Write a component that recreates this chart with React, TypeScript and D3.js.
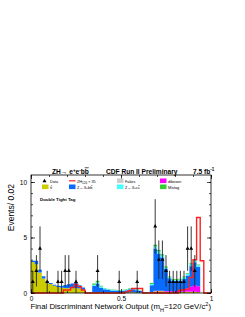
import React, { useEffect, useRef } from 'react'
import * as d3 from 'd3'

// bin edges are 0.00, 0.02, ... 0.98 (50 bins of width 0.02)
const binLow = d3.range(50).map(i => i / 50)

const ttbar = [2.8, 2.6, 1.85, 1.3, 0.95, 0.8, 0.65, 0.55, 0.5, 0.45, 0.42, 0.42, 0.45, 0.4, 0.3, 0.03, 0.03, 0.1, 0.1, 0.08,
  0.06, 0.05, 0.05, 0.05, 0.05, 0.05, 0.05, 0.06, 0.06, 0.05, 0.04, 0.02, 0.02, 0.08, 0.15, 0.15, 0.15, 0.12, 0.12, 0.1,
  0.1, 0.1, 0.12, 0.12, 0.12, 0.12, 0.1, 0, 0, 0]
const diboson = [0, 0, 0, 0, 0, 0, 0, 0, 0, 0, 0, 0, 0, 0, 0, 0, 0, 0, 0, 0,
  0, 0, 0, 0, 0, 0, 0, 0, 0, 0, 0, 0, 0, 0.02, 0.05, 0.05, 0.05, 0.05, 0.05, 0.05,
  0.08, 0.1, 0.15, 0.3, 0.45, 0.6, 0.5, 0, 0, 0]
const zbb = [0.1, 0.3, 0.25, 0.2, 0.1, 0.1, 0.1, 0.1, 0.12, 0.27, 0.36, 0.43, 0.45, 0.3, 0.2, 0.02, 0.02, 0.55, 0.75, 0.4,
  0.28, 0.22, 0.18, 0.17, 0.15, 0.16, 0.2, 0.28, 0.28, 0.2, 0.13, 0.05, 0.02, 0.6, 3.8, 3.35, 3.0, 2.0, 1.15, 0.95,
  0.92, 0.9, 1.0, 1.15, 1.85, 2.05, 1.75, 0, 0, 0]
const zcc = [0, 0, 0, 0, 0, 0, 0, 0, 0, 0, 0, 0, 0, 0, 0, 0, 0, 0.1, 0.12, 0.1,
  0.08, 0.07, 0.06, 0.05, 0.05, 0.05, 0.06, 0.07, 0.07, 0.06, 0.05, 0.02, 0, 0.12, 0.2, 0.2, 0.18, 0.13, 0.1, 0.1,
  0.1, 0.12, 0.15, 0.15, 0.2, 0.2, 0.15, 0, 0, 0]
const mistag = [0, 0, 0, 0, 0, 0, 0, 0, 0, 0, 0, 0, 0, 0, 0, 0, 0, 0.1, 0.13, 0.07,
  0.03, 0.03, 0.03, 0.03, 0.03, 0.03, 0.03, 0.03, 0.03, 0.03, 0.03, 0.01, 0, 0.08, 0.15, 0.12, 0.1, 0.08, 0.06, 0.06,
  0.06, 0.06, 0.06, 0.06, 0.06, 0.06, 0.06, 0, 0, 0]
const fakes = [0, 0, 0, 0, 0, 0, 0, 0, 0, 0, 0, 0, 0, 0, 0, 0, 0, 0, 0, 0,
  0, 0, 0, 0, 0, 0, 0, 0, 0, 0, 0, 0, 0, 0.03, 0.03, 0.03, 0.03, 0.03, 0.03, 0.03,
  0.03, 0.03, 0.03, 0.03, 0.03, 0.03, 0.03, 0, 0, 0]
// ZH (m_H = 120) signal scaled x35
const signal = [0, 0, 0, 0, 0, 0, 0, 0, 0, 0.27, 0.27, 0.5, 0.78, 0.57, 0.27, 0, 0, 0, 0, 0,
  0, 0, 0, 0, 0, 0, 0.1, 0.2, 0.4, 0.4, 0.4, 0, 0, 0, 0, 0, 0, 0, 0, 0,
  0, 0.25, 0.3, 0.35, 1.4, 3.0, 6.8, 2.9, 0, 0]
const dataCounts = [1, 2, 4, 0, 1, 0, 0, 1, 1, 2, 2, 0, 1, 0, 0, 0, 0, 0, 2, 0,
  0, 0, 0, 0, 1, 0, 0, 0, 0, 1, 0, 0, 0, 0, 6, 3, 3, 2, 1, 1,
  1, 1, 1, 4, 4, 2, 0, 0, 0, 0]

const keys = ['ttbar', 'diboson', 'zbb', 'zcc', 'mistag', 'fakes']
const colors: Record<string, string> = {
  ttbar: '#cccc00', diboson: '#ff00ff', zbb: '#0a6cff', zcc: '#44ffff', mistag: '#33cc33', fakes: '#cccccc'
}

const yTicksMajor = [0, 5, 10]
const xTicksMajor = [0, 0.5, 1]

const FONT = "'Liberation Sans', Arial, Helvetica, sans-serif"

export default function App() {
  const svgRef = useRef<SVGSVGElement | null>(null)

  useEffect(() => {
    if (!svgRef.current) return
    const svg = d3.select(svgRef.current)
    svg.selectAll('*').remove()

    const left = 31, right = 211, top = 175, bottom = 293
    const x = d3.scaleLinear().domain([0, 1]).range([left, right])
    const y = d3.scaleLinear().domain([0, 10]).range([bottom, 182])

    // rows for the stack, plus a closing row at x = 1 for the step curve
    const rows = binLow.map((lo, i) => ({
      lo, ttbar: ttbar[i], diboson: diboson[i], zbb: zbb[i], zcc: zcc[i], mistag: mistag[i], fakes: fakes[i]
    }))
    rows.push({ ...rows[rows.length - 1], lo: 1 })

    const series = d3.stack<any>().keys(keys)(rows)
    const area = d3.area<any>()
      .curve(d3.curveStepAfter)
      .x(d => x(d.data.lo))
      .y0(d => y(d[0]))
      .y1(d => y(d[1]))

    svg.append('g')
      .selectAll('path')
      .data(series)
      .enter()
      .append('path')
      .attr('d', d => area(d as any))
      .attr('fill', d => colors[d.key])

    // signal outline
    const sig = binLow.map((lo, i) => ({ lo, v: signal[i] }))
    sig.push({ lo: 1, v: signal[signal.length - 1] })
    const line = d3.line<any>().curve(d3.curveStepAfter).x(d => x(d.lo)).y(d => y(d.v))
    svg.append('path')
      .attr('d', line(sig))
      .attr('fill', 'none')
      .attr('stroke', '#ff2020')
      .attr('stroke-width', 1.4)

    // data points with sqrt(N) errors
    const pts = binLow.map((lo, i) => ({ c: lo + 0.01, n: dataCounts[i] })).filter(d => d.n > 0)
    const g = svg.append('g')
    g.selectAll('line')
      .data(pts)
      .enter()
      .append('line')
      .attr('x1', d => x(d.c)).attr('x2', d => x(d.c))
      .attr('y1', d => y(d.n + Math.sqrt(d.n)))
      .attr('y2', d => y(Math.max(0, d.n - Math.sqrt(d.n))))
      .attr('stroke', '#222')
      .attr('stroke-width', 0.9)
    g.selectAll('path')
      .data(pts)
      .enter()
      .append('path')
      .attr('d', d3.symbol().type(d3.symbolTriangle).size(7)() as string)
      .attr('transform', d => `translate(${x(d.c)},${y(d.n)})`)
      .attr('fill', '#000')

    // frame
    svg.append('rect')
      .attr('x', left).attr('y', top)
      .attr('width', right - left).attr('height', bottom - top)
      .attr('fill', 'none').attr('stroke', '#000').attr('stroke-width', 0.8)

    const noDomain = (sel: any) => sel.select('.domain').remove()

    // left axis
    svg.append('g')
      .attr('transform', `translate(${left},0)`)
      .call(d3.axisLeft(y).tickValues(yTicksMajor).tickSize(-4).tickPadding(4).tickFormat(d3.format('d')))
      .call(noDomain)
      .call(s => s.selectAll('text').style('font-size', '6.5px').style('font-family', FONT))
    svg.append('g')
      .attr('transform', `translate(${left},0)`)
      .call(d3.axisLeft(y).tickValues(d3.range(0, 11)).tickSize(-2).tickFormat(() => ''))
      .call(noDomain)
    // right axis
    svg.append('g')
      .attr('transform', `translate(${right},0)`)
      .call(d3.axisRight(y).tickValues(yTicksMajor).tickSize(-4).tickFormat(() => ''))
      .call(noDomain)
    svg.append('g')
      .attr('transform', `translate(${right},0)`)
      .call(d3.axisRight(y).tickValues(d3.range(0, 11)).tickSize(-2).tickFormat(() => ''))
      .call(noDomain)
    // bottom axis
    svg.append('g')
      .attr('transform', `translate(0,${bottom})`)
      .call(d3.axisBottom(x).tickValues(xTicksMajor).tickSize(-4).tickPadding(3).tickFormat(d => d3.format('')(d as number)))
      .call(noDomain)
      .call(s => s.selectAll('text').style('font-size', '6.5px').style('font-family', FONT))
    svg.append('g')
      .attr('transform', `translate(0,${bottom})`)
      .call(d3.axisBottom(x).tickValues(d3.range(0, 11).map(v => v / 10)).tickSize(-2).tickFormat(() => ''))
      .call(noDomain)
    // top axis
    svg.append('g')
      .attr('transform', `translate(0,${top})`)
      .call(d3.axisTop(x).tickValues(xTicksMajor).tickSize(-4).tickFormat(() => ''))
      .call(noDomain)
    svg.append('g')
      .attr('transform', `translate(0,${top})`)
      .call(d3.axisTop(x).tickValues(d3.range(0, 11).map(v => v / 10)).tickSize(-2).tickFormat(() => ''))
      .call(noDomain)
    svg.selectAll('.tick line').attr('stroke-width', 0.7)
  }, [])

  const legendRows = [
    [{ kind: 'data', label: 'Data' }, { kind: 'line', label: 'sig' }, { kind: 'box', color: colors.fakes, label: 'Fakes' }, { kind: 'box', color: colors.diboson, label: 'diboson' }],
    [{ kind: 'box', color: colors.ttbar, label: 'tt' }, { kind: 'box', color: colors.zbb, label: 'zbb' }, { kind: 'box', color: colors.zcc, label: 'zcc' }, { kind: 'box', color: colors.mistag, label: 'Mistag' }]
  ]
  const colX = [42, 69, 117, 160]
  const rowY = [178.5, 184.5]

  const renderLabel = (label: string) => {
    if (label === 'sig') return <>ZH<tspan fontSize="3" dy="1">120</tspan><tspan dy="-1"> × 35</tspan></>
    if (label === 'tt') return <>t<tspan textDecoration="overline">t</tspan></>
    if (label === 'zbb') return <>Z→ ll+b<tspan textDecoration="overline">b</tspan></>
    if (label === 'zcc') return <>Z→ ll+c<tspan textDecoration="overline">c</tspan></>
    return label
  }

  return (
    <div style={{ position: 'absolute', left: 0, top: 0, width: 245, height: 317, background: '#fff' }}>
      <svg ref={svgRef} width={245} height={317} style={{ position: 'absolute', left: 0, top: 0 }} />
      <svg width={245} height={317} style={{ position: 'absolute', left: 0, top: 0 }} fontFamily={FONT}>
        <text x={52} y={173.5} fontSize="6.6" fontWeight="bold">
          ZH→ e<tspan fontSize="4.5" dy="-2">+</tspan><tspan dy="2">e</tspan><tspan fontSize="4.5" dy="-2">-</tspan><tspan dy="2">b</tspan><tspan textDecoration="overline">b</tspan>
        </text>
        <text x={106} y={173.5} fontSize="6.6" fontWeight="bold">CDF Run II Preliminary</text>
        <text x={193} y={173.5} fontSize="6.6" fontWeight="bold">
          7.5 fb<tspan fontSize="4.5" dy="-2.5">-1</tspan>
        </text>
        {legendRows.map((row, r) => row.map((e: any, c) => (
          <g key={`${r}-${c}`}>
            {e.kind === 'data' && <path d="M44.5,178.8 L46.5,182.2 L42.5,182.2 Z" fill="#000" />}
            {e.kind === 'line' && <line x1={colX[c]} x2={colX[c] + 6.5} y1={rowY[r] + 2.3} y2={rowY[r] + 2.3} stroke="#ff2020" strokeWidth={1.2} />}
            {e.kind === 'box' && <rect x={colX[c]} y={rowY[r]} width={6.5} height={4.6} fill={e.color} />}
            <text x={colX[c] + 8} y={rowY[r] + 4} fontSize="3.8">{renderLabel(e.label)}</text>
          </g>
        )))}
        <text x={40} y={201} fontSize="4.4" fontWeight="bold">Double Tight Tag</text>
        <text transform="translate(14,184) rotate(-90)" textAnchor="end" fontSize="8.5">Events/ 0.02</text>
        <text x={211} y={309} textAnchor="end" fontSize="7.8">
          Final Discriminant Network Output (m<tspan fontSize="5.5" dy="3">H</tspan><tspan dy="-3">=120 GeV/c</tspan><tspan fontSize="5.5" dy="-3">2</tspan><tspan dy="3">)</tspan>
        </text>
      </svg>
    </div>
  )
}
